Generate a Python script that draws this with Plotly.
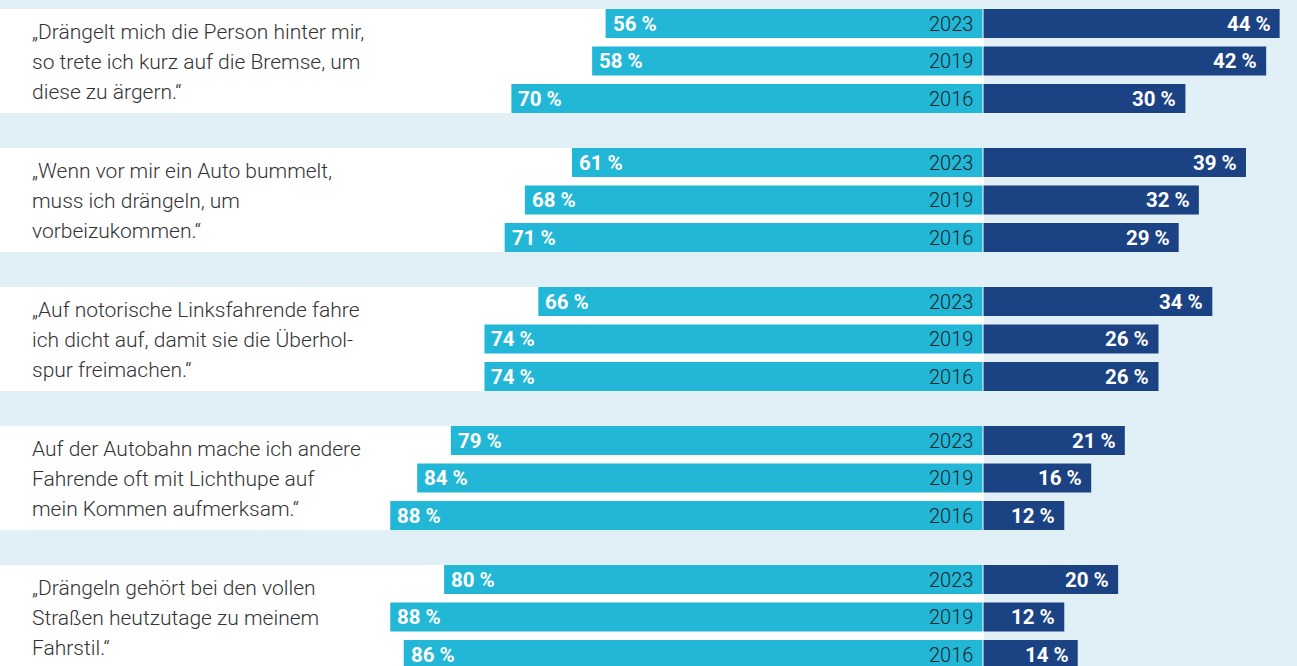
import plotly.graph_objects as go

# ---------------- data ----------------
statements = [
    ["\u201eDrängelt mich die Person hinter mir,", "so trete ich kurz auf die Bremse, um", "diese zu ärgern.\u201c"],
    ["\u201eWenn vor mir ein Auto bummelt,", "muss ich drängeln, um", "vorbeizukommen.\u201c"],
    ["\u201eAuf notorische Linksfahrende fahre", "ich dicht auf, damit sie die Überhol-", "spur freimachen.\u201c"],
    ["Auf der Autobahn mache ich andere", "Fahrende oft mit Lichthupe auf", "mein Kommen aufmerksam.\u201c"],
    ["\u201eDrängeln gehört bei den vollen", "Straßen heutzutage zu meinem", "Fahrstil.\u201c"],
]
years = ["2023", "2019", "2016"]
trifft_nicht_zu = [
    [56, 58, 70],
    [61, 68, 71],
    [66, 74, 74],
    [79, 84, 88],
    [80, 88, 86],
]
trifft_zu = [
    [44, 42, 30],
    [39, 32, 29],
    [34, 26, 26],
    [21, 16, 12],
    [20, 12, 14],
]

# ---------------- layout constants ----------------
W, H = 1297, 666
PX_PER_PCT = 6.73
X0 = 982.5
GROUP_TOP0, GROUP_PITCH, ROW_PITCH = 9, 139, 37.5
BAR_H, PANEL_H = 29, 104
LINE_OFF, LINE_PITCH = 23, 30

C_LIGHT = "#23b7d7"
C_DARK = "#1b4383"
C_BG = "#e1eff7"
FONT = "Roboto"

xmin = -X0 / PX_PER_PCT
xmax = (W - X0) / PX_PER_PCT

ys, left_x, right_x = [], [], []
annotations, shapes = [], []
for g, stmt in enumerate(statements):
    top = GROUP_TOP0 + g * GROUP_PITCH
    shapes.append(dict(type="rect", xref="x", yref="y", x0=xmin, x1=0.25,
                       y0=top, y1=top + PANEL_H, fillcolor="white",
                       line=dict(width=0), layer="below"))
    for i, line in enumerate(stmt):
        annotations.append(dict(xref="paper", yref="y", x=30 / W, y=top + LINE_OFF + i * LINE_PITCH,
                                xanchor="left", yanchor="middle", text=line, showarrow=False,
                                font=dict(family=FONT, size=21, weight=300, color="#333333")))
    for r, yr in enumerate(years):
        yc = top + r * ROW_PITCH + BAR_H / 2
        lv = trifft_nicht_zu[g][r]
        rv = trifft_zu[g][r]
        ys.append(yc)
        left_x.append(-lv)
        right_x.append(rv)
        annotations.append(dict(x=-lv, y=yc, xanchor="left", yanchor="middle", xshift=5,
                                text=f"<b>{lv} %</b>", showarrow=False,
                                font=dict(family=FONT, size=20.5, color="white")))
        annotations.append(dict(x=rv, y=yc, xanchor="right", yanchor="middle", xshift=-6,
                                text=f"<b>{rv} %</b>", showarrow=False,
                                font=dict(family=FONT, size=20.5, color="white")))
        annotations.append(dict(x=0, y=yc, xanchor="right", yanchor="middle", xshift=-8,
                                text=yr, showarrow=False,
                                font=dict(family=FONT, size=20, weight=300, color="#15242b")))

fig = go.Figure()
fig.add_trace(go.Bar(orientation="h", x=left_x, y=ys, width=BAR_H, marker=dict(color=C_LIGHT, line=dict(width=0)),
                     hoverinfo="skip", showlegend=False))
fig.add_trace(go.Bar(orientation="h", x=right_x, y=ys, base=0.15, width=BAR_H,
                     marker=dict(color=C_DARK, line=dict(width=0)),
                     hoverinfo="skip", showlegend=False))

fig.update_layout(
    width=W, height=H,
    margin=dict(l=0, r=0, t=0, b=0),
    paper_bgcolor=C_BG, plot_bgcolor=C_BG,
    barmode="overlay",
    xaxis=dict(range=[xmin, xmax], visible=False, fixedrange=True),
    yaxis=dict(range=[H, 0], visible=False, fixedrange=True),
    shapes=shapes,
    annotations=annotations,
)

fig.write_html("out.html", config={"displayModeBar": False},
               post_script="document.body.style.margin='0';document.body.style.overflow='hidden';")
